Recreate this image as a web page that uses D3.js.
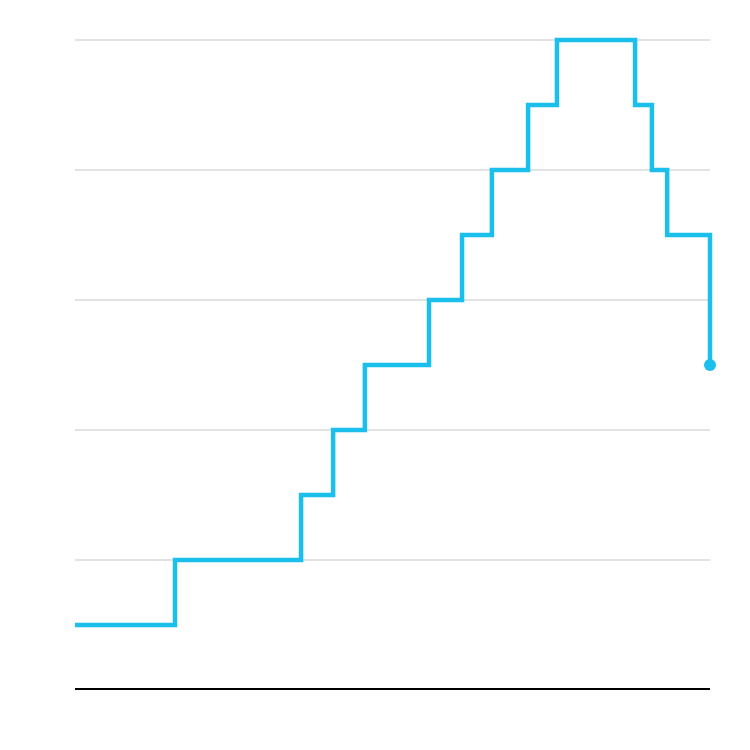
<!DOCTYPE html>
<html>
<head>
<meta charset="utf-8">
<script src="https://cdn.jsdelivr.net/npm/d3@7"></script>
<style>
  body { margin: 0; background: #fff; }
  svg { display: block; }
</style>
</head>
<body>
<svg id="chart" width="750" height="750"></svg>
<script>
// step points: decimal year -> level
var years  = [2000, 2003.15, 2007.12, 2008.13, 2009.13, 2011.15, 2012.19, 2013.13, 2014.27, 2015.18, 2017.64, 2018.17, 2018.65, 2020];
var levels = [1, 2, 3, 4, 5, 6, 7, 8, 9, 10, 9, 8, 7, 5];
var gridTicks = [2, 4, 6, 8, 10];

var data = years.map((y, i) => ({ x: y, y: levels[i] }));

var svg = d3.select('#chart');
var margin = { top: 40, right: 40, bottom: 60, left: 75 };
var width = 750 - margin.left - margin.right;
var height = 750 - margin.top - margin.bottom;

var x = d3.scaleLinear().domain([2000, 2020]).range([0, width]);
var y = d3.scaleLinear().domain([0, 10]).range([height, 0]);

var g = svg.append('g').attr('transform', `translate(${margin.left},${margin.top})`);

// gridlines
g.append('g')
  .selectAll('line')
  .data(gridTicks)
  .join('line')
  .attr('x1', 0).attr('x2', width)
  .attr('y1', d => y(d)).attr('y2', d => y(d))
  .attr('stroke', '#d9d9d9')
  .attr('stroke-width', 1.5);

// baseline
g.append('line')
  .attr('x1', 0).attr('x2', width)
  .attr('y1', y(0) - 1).attr('y2', y(0) - 1)
  .attr('stroke', '#000')
  .attr('stroke-width', 2);

var line = d3.line()
  .x(d => x(d.x))
  .y(d => y(d.y))
  .curve(d3.curveStepAfter);

g.append('path')
  .datum(data)
  .attr('d', line)
  .attr('fill', 'none')
  .attr('stroke', '#1bbfec')
  .attr('stroke-width', 4.5)
  .attr('stroke-linejoin', 'miter');

var last = data[data.length - 1];
g.append('circle')
  .attr('cx', x(last.x))
  .attr('cy', y(last.y))
  .attr('r', 6)
  .attr('fill', '#1bbfec');
</script>
</body>
</html>
